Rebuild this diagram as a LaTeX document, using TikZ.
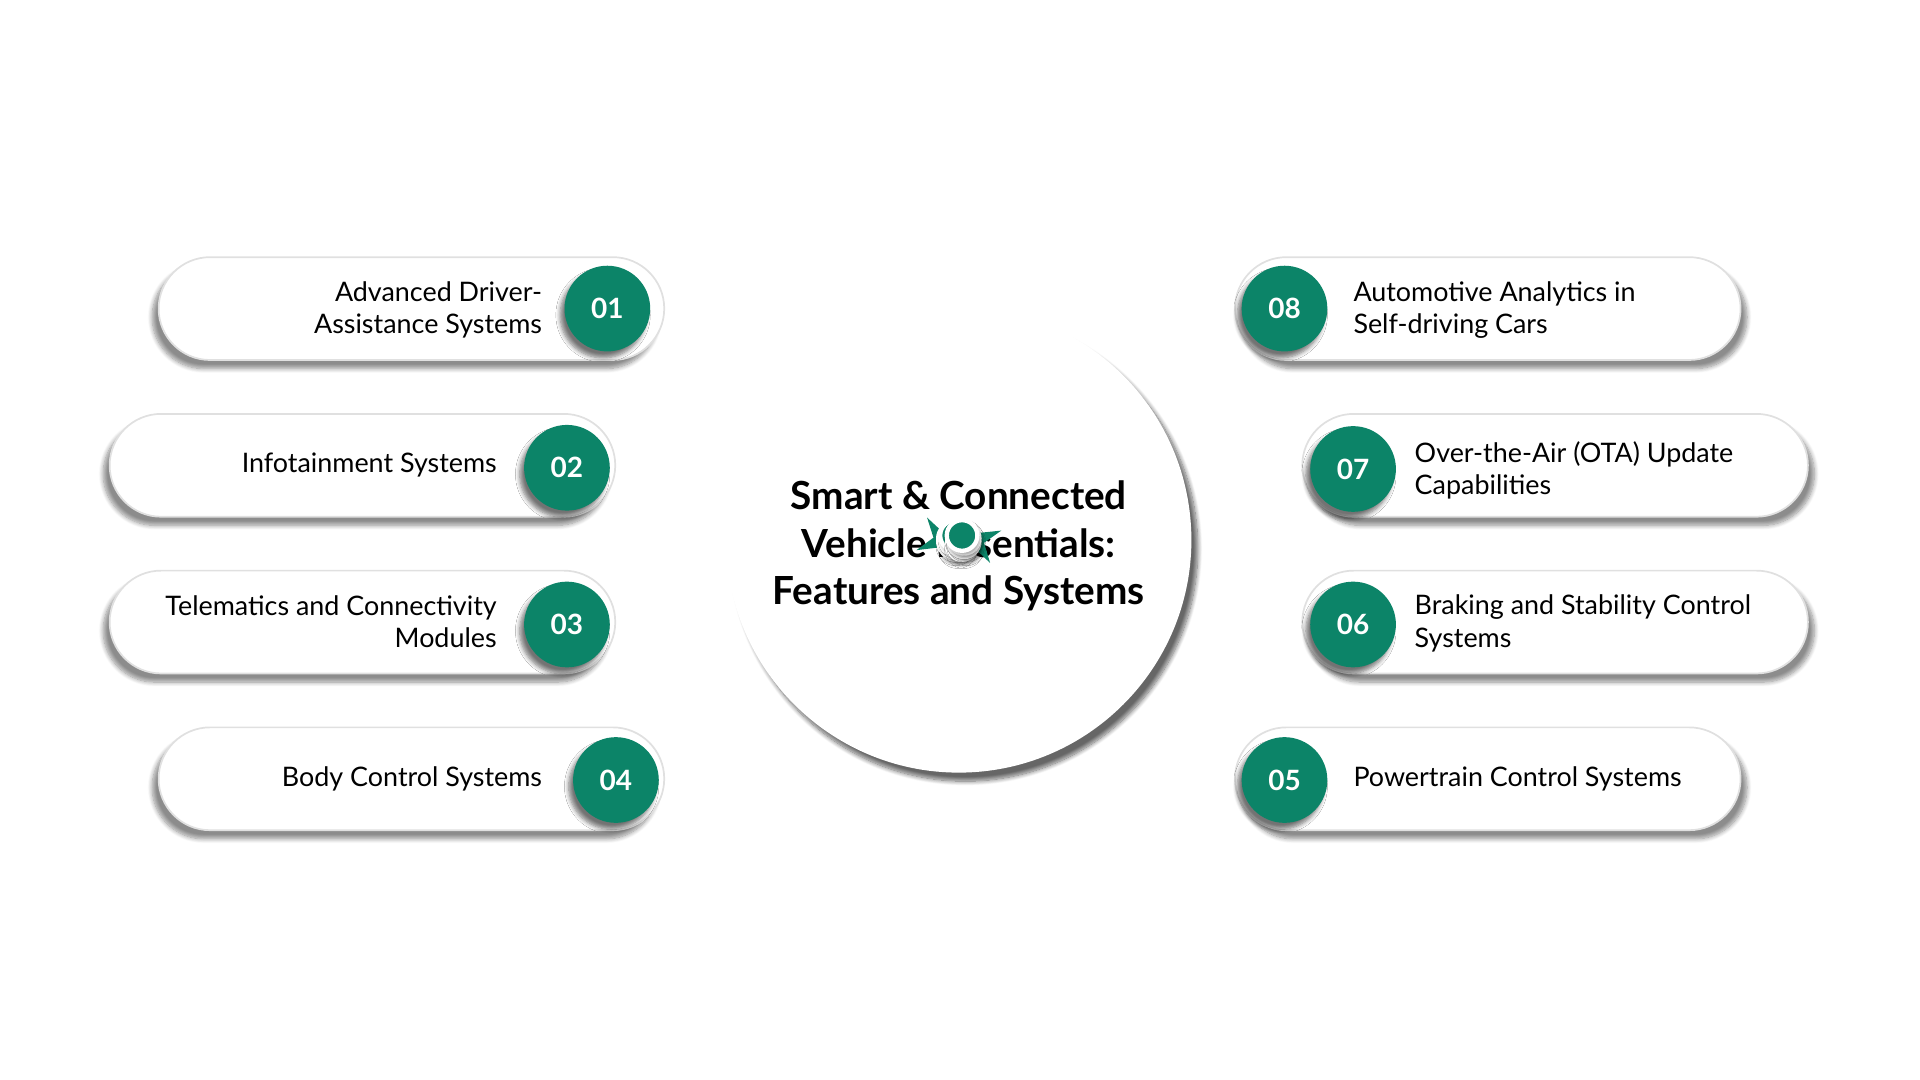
\documentclass[tikz,border=0pt]{standalone}
\usepackage{fontspec}
\setmainfont{Lato}
\usetikzlibrary{shadows.blur,arrows.meta,calc}
\definecolor{ringgreen}{HTML}{0C8468}

\begin{document}
\begin{tikzpicture}[x=0.02cm,y=-0.02cm,
    pill/.style={draw=black!12,line width=0.8pt,fill=white,rounded corners=0.84cm,
      minimum width=8.26cm,minimum height=1.68cm,
      blur shadow={shadow blur steps=8,shadow opacity=45,shadow xshift=#1,shadow yshift=-4pt,shadow blur extra rounding=0pt}},
    pill/.default=-3pt,
    num/.style={circle,fill=ringgreen,text=white,minimum size=1.4cm,inner sep=0pt,font=\fontsize{13}{15}\selectfont\bfseries,
      blur shadow={shadow blur steps=6,shadow opacity=55,shadow xshift=-2pt,shadow yshift=-3pt}},
    lbl/.style={font=\fontsize{12.5}{15}\selectfont,inner sep=0pt},
    ring/.style={draw=ringgreen,line width=2.2pt},
    dot/.style={circle,fill=ringgreen,draw=white,line width=2pt,minimum size=0.5cm,inner sep=0pt,
      blur shadow={shadow blur steps=4,shadow opacity=40,shadow xshift=1pt,shadow yshift=-2pt}}]
    \useasboundingbox (0,0) rectangle (1568,882);

    % centre
    \node[circle,fill=white,minimum size=7.6cm,
      blur shadow={shadow blur steps=10,shadow opacity=60,shadow xshift=3pt,shadow yshift=-4pt}] (c) at (783,441) {};
    \node[font=\fontsize{18}{22}\selectfont\bfseries,align=center] (title) at (783,446)
      {Smart \& Connected\\Vehicle Essentials:\\Features and Systems};

    % ring
    \draw[ring,-{Stealth[length=6mm,width=5.5mm]}] ($(c)+(244:4.56)$) arc[start angle=244,end angle=108,radius=4.56];
    \draw[ring,-{Stealth[length=6mm,width=5.5mm]}] ($(c)+(66:4.56)$) arc[start angle=66,end angle=-71,radius=4.56];
    \fill[ringgreen] ($(c)+(250:4.62)$) circle (0.12);
    \fill[ringgreen] ($(c)+(70:4.62)$) circle (0.12);
    \foreach \a/\n in {126/d1,162/d2,198/d3,234/d4,54/d8,18/d7,-18/d6,-54/d5}
      \node[dot] (\n) at ($(c)+(\a:4.56)$) {};

    % left
    \node[pill] (p1) at (336,252) {};
    \node[pill] (p2) at (296,380) {};
    \node[pill] (p3) at (296,508) {};
    \node[pill] (p4) at (336,636) {};
    \node[num] (n1) at (496,252) {01};
    \node[num] (n2) at (463,382) {02};
    \node[num] (n3) at (463,510) {03};
    \node[num] (n4) at (503,637) {04};
    \node[lbl,align=right,anchor=east] (t1) at (443,253) {Advanced Driver-\\Assistance Systems};
    \node[lbl,align=right,anchor=east] (t2) at (406,380) {Infotainment Systems};
    \node[lbl,align=right,anchor=east] (t3) at (406,508) {Telematics and Connectivity\\Modules};
    \node[lbl,align=right,anchor=east] (t4) at (443,636) {Body Control Systems};

    % right
    \node[pill=3pt] (p8) at (1215,252) {};
    \node[pill=3pt] (p7) at (1270,380) {};
    \node[pill=3pt] (p6) at (1270,508) {};
    \node[pill=3pt] (p5) at (1215,636) {};
    \node[num] (n8) at (1049,252) {08};
    \node[num] (n7) at (1105,383) {07};
    \node[num] (n6) at (1105,510) {06};
    \node[num] (n5) at (1049,637) {05};
    \node[lbl,align=left,anchor=west] (t8) at (1105,253) {Automotive Analytics in\\Self-driving Cars};
    \node[lbl,align=left,anchor=west] (t7) at (1155,384) {Over-the-Air (OTA) Update\\Capabilities};
    \node[lbl,align=left,anchor=west] (t6) at (1155,509) {Braking and Stability Control\\Systems};
    \node[lbl,align=left,anchor=west] (t5) at (1105,636) {Powertrain Control Systems};
\end{tikzpicture}
\end{document}
